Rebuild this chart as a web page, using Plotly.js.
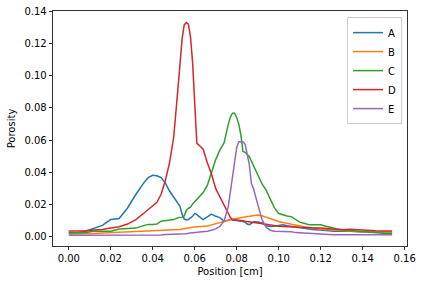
<!DOCTYPE html>
<html>
<head>
<meta charset="utf-8">
<script src="https://cdn.plot.ly/plotly-3.0.1.min.js"></script>
<style>html,body{margin:0;padding:0;background:#fff;}#chart{width:424px;height:286px;}</style>
</head>
<body>
<div id="chart"></div>
<script>
const position = [0,0.004,0.008,0.012,0.016,0.020,0.024,0.028,0.032,0.036,0.038,0.040,0.042,0.044,0.046,0.048,0.050,0.052,0.053,0.054,0.055,0.056,0.057,0.058,0.059,0.060,0.061,0.062,0.064,0.066,0.068,0.070,0.072,0.074,0.076,0.077,0.078,0.079,0.080,0.081,0.082,0.083,0.084,0.085,0.086,0.087,0.088,0.089,0.090,0.092,0.094,0.096,0.098,0.100,0.102,0.104,0.106,0.108,0.110,0.112,0.114,0.116,0.118,0.120,0.122,0.124,0.126,0.128,0.130,0.134,0.138,0.142,0.146,0.150,0.154];

const seriesA = [0.0028,0.0028,0.0035,0.0052,0.0072,0.0108,0.0115,0.0180,0.0265,0.0340,0.0370,0.0383,0.0380,0.0368,0.0335,0.0285,0.0250,0.0215,0.0190,0.0140,0.0112,0.0106,0.0108,0.0118,0.0128,0.0145,0.0140,0.0128,0.0108,0.0125,0.0142,0.0128,0.0120,0.0097,0.0105,0.0108,0.0105,0.0102,0.0100,0.0098,0.0097,0.0096,0.0092,0.0080,0.0076,0.0085,0.0095,0.0094,0.0092,0.0088,0.0070,0.0065,0.0066,0.0072,0.0075,0.0070,0.0066,0.0063,0.0058,0.0052,0.0050,0.0047,0.0045,0.0044,0.0042,0.0038,0.0036,0.0036,0.0040,0.0036,0.0032,0.0030,0.0030,0.0029,0.0029];

const seriesB = [0.0019,0.0019,0.0020,0.0022,0.0025,0.0027,0.0029,0.0031,0.0033,0.0035,0.0036,0.0037,0.0038,0.0039,0.0040,0.0041,0.0042,0.0044,0.0046,0.0050,0.0053,0.0056,0.0058,0.0060,0.0061,0.0062,0.0063,0.0064,0.0066,0.0068,0.0075,0.0083,0.0090,0.0097,0.0103,0.0107,0.0110,0.0113,0.0116,0.0119,0.0121,0.0123,0.0125,0.0127,0.0128,0.0130,0.0132,0.0134,0.0136,0.0132,0.0122,0.0112,0.0104,0.0096,0.0090,0.0084,0.0078,0.0073,0.0068,0.0064,0.0060,0.0056,0.0053,0.0050,0.0047,0.0045,0.0043,0.0041,0.0040,0.0038,0.0034,0.0031,0.0029,0.0027,0.0027];

const seriesC = [0.0025,0.0025,0.0028,0.0036,0.0036,0.0036,0.0050,0.0052,0.0055,0.0072,0.0078,0.0078,0.0080,0.0098,0.0100,0.0104,0.0108,0.0120,0.0122,0.0123,0.0130,0.0165,0.0178,0.0185,0.0205,0.0220,0.0235,0.0250,0.0275,0.0320,0.0400,0.0480,0.0540,0.0585,0.0700,0.0745,0.0768,0.0768,0.0740,0.0700,0.0630,0.0530,0.0525,0.0515,0.0500,0.0470,0.0440,0.0410,0.0380,0.0330,0.0290,0.0240,0.0180,0.0145,0.0135,0.0130,0.0126,0.0110,0.0092,0.0085,0.0078,0.0076,0.0077,0.0076,0.0068,0.0060,0.0056,0.0050,0.0046,0.0040,0.0035,0.0030,0.0026,0.0023,0.0022];

const seriesD = [0.0037,0.0037,0.0038,0.0043,0.0046,0.0055,0.0063,0.0080,0.0108,0.0150,0.0170,0.0195,0.0215,0.0265,0.0350,0.0460,0.0620,0.0920,0.1080,0.1230,0.1315,0.1330,0.1320,0.1240,0.1080,0.0800,0.0580,0.0570,0.0545,0.0460,0.0390,0.0300,0.0250,0.0200,0.0150,0.0120,0.0108,0.0107,0.0107,0.0106,0.0104,0.0100,0.0097,0.0096,0.0094,0.0092,0.0090,0.0088,0.0086,0.0082,0.0078,0.0072,0.0068,0.0066,0.0065,0.0065,0.0064,0.0062,0.0060,0.0058,0.0057,0.0056,0.0056,0.0055,0.0053,0.0050,0.0048,0.0046,0.0045,0.0048,0.0044,0.0040,0.0038,0.0037,0.0037];

const seriesE = [0.0010,0.0010,0.0010,0.0010,0.0010,0.0010,0.0010,0.0010,0.0010,0.0010,0.0010,0.0011,0.0011,0.0012,0.0016,0.0016,0.0016,0.0016,0.0016,0.0016,0.0017,0.0020,0.0023,0.0026,0.0027,0.0028,0.0029,0.0030,0.0033,0.0036,0.0042,0.0050,0.0065,0.0100,0.0190,0.0280,0.0380,0.0470,0.0555,0.0590,0.0592,0.0590,0.0575,0.0520,0.0450,0.0330,0.0300,0.0250,0.0200,0.0110,0.0060,0.0042,0.0036,0.0035,0.0035,0.0035,0.0033,0.0027,0.0025,0.0023,0.0021,0.0020,0.0019,0.0017,0.0016,0.0015,0.0014,0.0014,0.0014,0.0014,0.0014,0.0014,0.0014,0.0014,0.0014];

const seriesNames = ['A','B','C','D','E'];
const seriesColors = ['#1f77b4','#ff7f0e','#2ca02c','#d62728','#9467bd'];
const seriesValues = [seriesA, seriesB, seriesC, seriesD, seriesE];
const xTicks = [0,0.02,0.04,0.06,0.08,0.10,0.12,0.14,0.16];
const yTicks = [0,0.02,0.04,0.06,0.08,0.10,0.12,0.14];

const traces = seriesValues.map((vals, i) => ({
  x: position, y: vals, type: 'scatter', mode: 'lines', name: seriesNames[i],
  line: {color: seriesColors[i], width: 1.5}
}));

const font = {family: 'DejaVu Sans, sans-serif', size: 10, color: '#000'};
const layout = {
  width: 424, height: 286,
  margin: {l: 53, r: 17, t: 11, b: 40, pad: 0},
  paper_bgcolor: '#fff', plot_bgcolor: '#fff',
  font: font,
  showlegend: true,
  legend: {x: 0.986, y: 0.974, xanchor: 'right', yanchor: 'top', bgcolor: 'rgba(255,255,255,0.8)',
           bordercolor: '#cccccc', borderwidth: 1, font: font, itemwidth: 30},
  xaxis: {range: [-0.0075, 0.1611], tickvals: xTicks, tickformat: '.2f', showgrid: false, zeroline: false,
          showline: true, mirror: true, linecolor: '#000', linewidth: 0.8, ticks: 'outside', ticklen: 3.5,
          tickwidth: 0.8, tickcolor: '#000', tickfont: font,
          title: {text: 'Position [cm]', font: font, standoff: 4}},
  yaxis: {range: [-0.0056, 0.14015], tickvals: yTicks, tickformat: '.2f', showgrid: false, zeroline: false,
          showline: true, mirror: true, linecolor: '#000', linewidth: 0.8, ticks: 'outside', ticklen: 3.5,
          tickwidth: 0.8, tickcolor: '#000', tickfont: font,
          title: {text: 'Porosity', font: font, standoff: 6}}
};
Plotly.newPlot('chart', traces, layout, {staticPlot: true, displayModeBar: false});
</script>
</body>
</html>
